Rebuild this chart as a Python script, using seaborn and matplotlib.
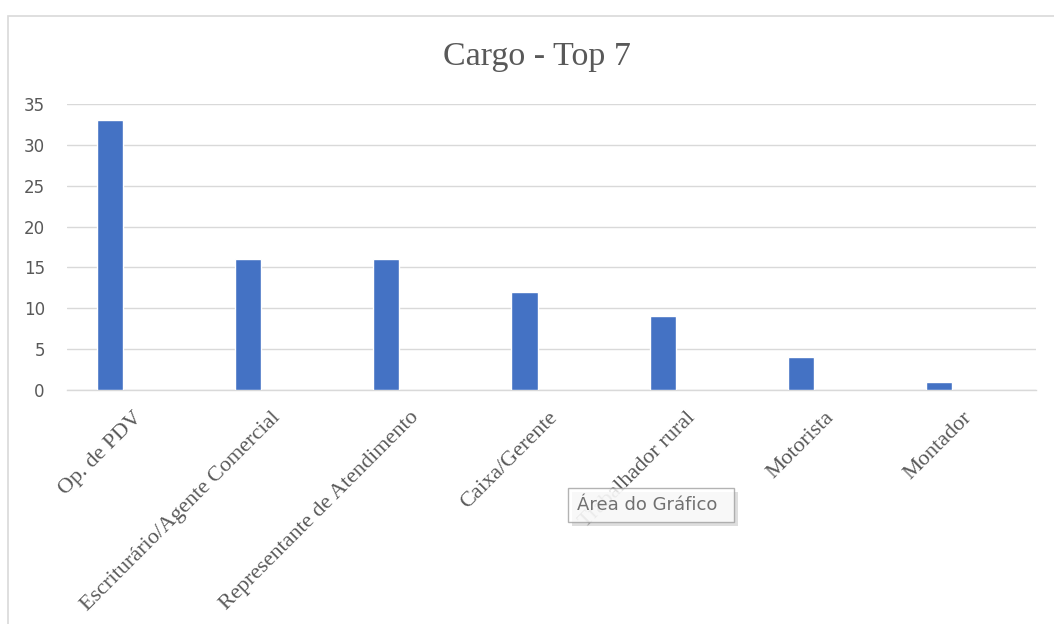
import matplotlib
matplotlib.use("Agg")
import matplotlib.pyplot as plt
import matplotlib.transforms as mtrans
import seaborn as sns
import pandas as pd
from matplotlib.patches import Rectangle

categories = ["Op. de PDV", "Escriturário/Agente Comercial", "Representante de Atendimento",
              "Caixa/Gerente", "Trabalhador rural", "Motorista", "Montador"]
values = [33, 16, 16, 12, 9, 4, 1]
yticks = [0, 5, 10, 15, 20, 25, 30, 35]
title = "Cargo - Top 7"

sns.set_theme(style="white")
plt.rcParams['font.family'] = ['DejaVu Sans']

W, H = 1054, 624
fig = plt.figure(figsize=(W / 100, H / 100), dpi=100)
fig.patch.set_facecolor("white")

# chart-area frame
fig.patches.append(Rectangle((8 / W, -0.1), 1.2, 1 - 16 / H + 0.1, transform=fig.transFigure,
                             fill=False, edgecolor="#D9D9D9", linewidth=1.2, zorder=0))

ax = fig.add_axes([67 / W, 1 - 390 / H, (1036 - 67) / W, (390 - 104) / H])
df = pd.DataFrame({"cargo": categories, "n": values})
sns.barplot(data=df, x="cargo", y="n", color="#4472C4", width=0.19, saturation=1,
            ax=ax, zorder=3)

ax.set_xlim(-0.31, 6.70)
ax.set_ylim(0, 35)
ax.set_yticks(yticks)
ax.yaxis.grid(True, color="#D9D9D9", linewidth=1.0, zorder=0)
ax.set_axisbelow(True)
for s in ["top", "right", "left"]:
    ax.spines[s].set_visible(False)
ax.spines["bottom"].set_color("#D9D9D9")
ax.spines["bottom"].set_linewidth(1.0)
ax.set_xlabel("")
ax.set_ylabel("")
ax.tick_params(axis="both", length=0)
ax.tick_params(axis="y", labelsize=12, labelcolor="#595959", pad=16)

ax.set_xticks(range(len(categories)))
ax.set_xticklabels(categories, rotation=45, ha="right", va="center",
                   rotation_mode="anchor", fontsize=16, color="#595959",
                   family="Liberation Serif")
offset = mtrans.ScaledTranslation(30 / 100, -20 / 100, fig.dpi_scale_trans)
for lbl in ax.get_xticklabels():
    lbl.set_transform(lbl.get_transform() + offset)

fig.text(537 / W, 1 - 57 / H, title, ha="center", va="center", fontsize=24.5,
         color="#595959", family="Liberation Serif")

# tooltip overlay
x0, y0, x1, y1 = 568, 488, 734, 522
fig.patches.append(Rectangle(((x0 + 4) / W, 1 - (y1 + 4) / H), (x1 - x0) / W, (y1 - y0) / H,
                             transform=fig.transFigure, facecolor="#C8C8C8", edgecolor="none",
                             alpha=0.6, zorder=5))
fig.patches.append(Rectangle((x0 / W, 1 - y1 / H), (x1 - x0) / W, (y1 - y0) / H,
                             transform=fig.transFigure, facecolor="white", edgecolor="#A0A0A0",
                             linewidth=1.0, alpha=0.8, zorder=6))
fig.text((x0 + 9) / W, 1 - ((y0 + y1) / 2) / H, "Área do Gráfico", ha="left", va="center",
         fontsize=13, color="#707070", zorder=7)

fig.savefig("out.png", dpi=100, facecolor="white")
